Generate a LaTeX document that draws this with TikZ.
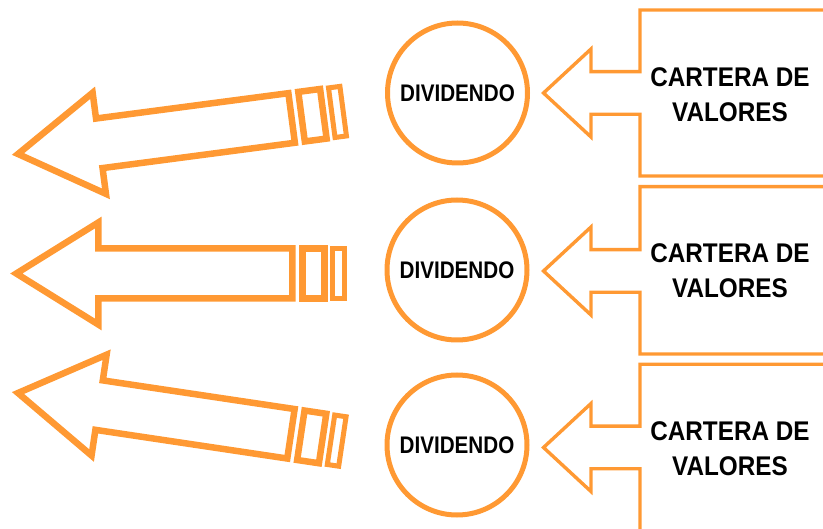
\documentclass[tikz,border=0pt]{standalone}
\usepackage{fontspec}
\setmainfont{Liberation Sans}
\definecolor{org}{RGB}{255,153,51}
\begin{document}
\begin{tikzpicture}[x=1pt,y=-1pt,
  arrowline/.style={draw=org, line width=6.5pt, line join=miter, miter limit=10},
  calloutline/.style={draw=org, line width=3.4pt, line join=miter, miter limit=10},
  circ/.style={circle, draw=org, line width=5pt, minimum size=140pt, inner sep=0pt,
    font=\bfseries\fontsize{24}{28}\selectfont},
  ctext/.style={align=center, inner sep=0pt, font=\bfseries\fontsize{27}{35}\selectfont}]
\useasboundingbox (0,0) rectangle (823,529);
\clip (0,0) rectangle (823,529);
% left arrows
\foreach \tx/\ty/\ang in {18/154/7.5, 16.3/273.5/0, 18/393/-8.5} {
  \begin{scope}[shift={(\tx,\ty)}, rotate=\ang]
    \draw[arrowline] (0,0) -- (82,-51) -- (82,-25) -- (276,-25) -- (276,25) -- (82,25) -- (82,51) -- cycle;
    \draw[arrowline] (286,-25) rectangle (308,25);
    \draw[arrowline, line width=5pt] (316.5,-25) rectangle (328,25);
  \end{scope}
}
% right callouts
\foreach \cy/\ct/\cb in {93/10/176, 271/186.7/354, 447.5/364.3/560} {
  \draw[calloutline] (830,\ct) -- (640,\ct) -- (640,\cy-21.3) -- (591,\cy-21.3) -- (591,\cy-44)
    -- (543.5,\cy) -- (591,\cy+44) -- (591,\cy+21.3) -- (640,\cy+21.3) -- (640,\cb) -- (830,\cb);
}
% circles
\node[circ] (d1) at (457.5,93) {\scalebox{0.86}[1]{DIVIDENDO}};
\node[circ] (d2) at (457,270) {\scalebox{0.86}[1]{DIVIDENDO}};
\node[circ] (d3) at (457,445) {\scalebox{0.86}[1]{DIVIDENDO}};
% callout texts
\node[ctext] (c1) at (730,94.5) {\scalebox{0.9}[1]{CARTERA DE}\\\scalebox{0.9}[1]{VALORES}};
\node[ctext] (c2) at (730,271) {\scalebox{0.9}[1]{CARTERA DE}\\\scalebox{0.9}[1]{VALORES}};
\node[ctext] (c3) at (730,448.5) {\scalebox{0.9}[1]{CARTERA DE}\\\scalebox{0.9}[1]{VALORES}};
\end{tikzpicture}
\end{document}
